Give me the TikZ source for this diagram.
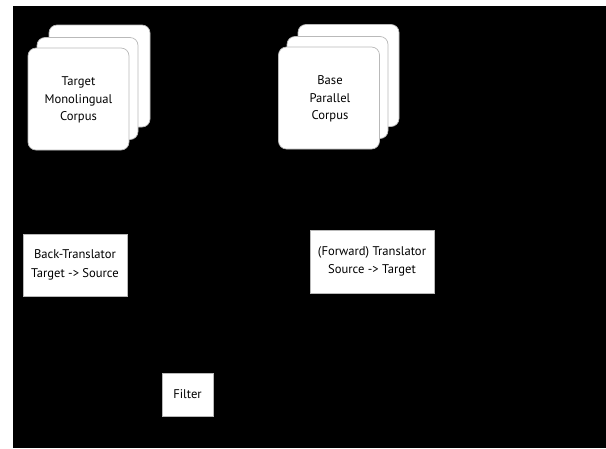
\documentclass[tikz,border=0pt]{standalone}
\usepackage{fontspec}
\setmainfont{PT Sans}
\begin{document}
\begin{tikzpicture}[x=1pt,y=-1pt,
  card/.style={draw=gray!55, line width=0.7pt, fill=white, rounded corners=8pt,
    minimum width=101pt, minimum height=102pt, inner sep=0pt, outer sep=0pt},
  procbox/.style={draw=gray!55, line width=0.7pt, fill=white,
    inner sep=0pt, outer sep=0pt, align=center,
    font=\fontsize{12.6pt}{18.5pt}\selectfont},
  cardtext/.style={align=center, font=\fontsize{12.6pt}{17.5pt}\selectfont}]
\useasboundingbox (0,0) rectangle (606,448);
\fill[white] (0,0) rectangle (606,448);
\fill[black] (13,6) rectangle (606,448);
% Target monolingual corpus stack
\node[card] (tm3) at (99.5,76) {};
\node[card] (tm2) at (87.5,88.5) {};
\node[card] (tm1) at (78.5,99) {};
\node[cardtext] (tmtext) at (78.5,100) {Target\\Monolingual\\Corpus};
% Base parallel corpus stack
\node[card] (bp3) at (348.5,75.5) {};
\node[card] (bp2) at (337.5,87.5) {};
\node[card] (bp1) at (329,98) {};
\node[cardtext] (bptext) at (330,99) {Base\\Parallel\\Corpus};
% Processing boxes
\node[procbox, minimum width=104pt, minimum height=62pt] (bt) at (75,265) {Back-Translator\\Target -> Source};
\node[procbox, minimum width=124pt, minimum height=63pt] (ft) at (372,261.5) {(Forward) Translator\\Source -> Target};
\node[procbox, minimum width=51pt, minimum height=43pt] (filt) at (187.5,394.5) {Filter};
\end{tikzpicture}
\end{document}
